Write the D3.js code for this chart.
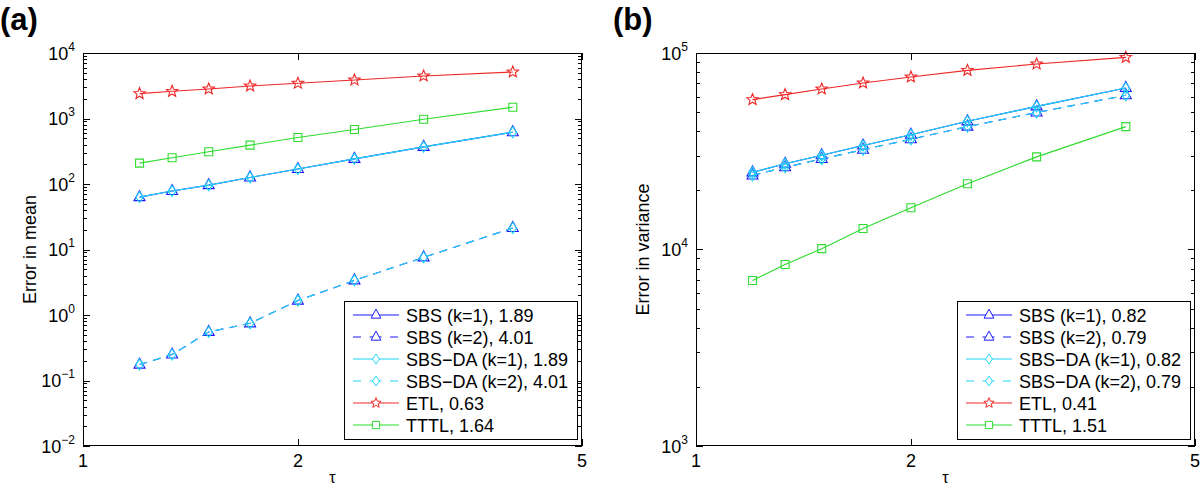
<!DOCTYPE html>
<html>
<head>
<meta charset="utf-8">
<script src="https://cdn.jsdelivr.net/npm/d3@7/dist/d3.min.js"></script>
<style>
  html, body { margin: 0; padding: 0; background: #fff; }
  text { font-family: "Liberation Sans", Arial, Helvetica, sans-serif; fill: #000; }
</style>
</head>
<body>
<svg id="chart" width="1200" height="489"></svg>
<script>
// ---------------- data ----------------
const tau = [1.2, 1.333, 1.5, 1.714, 2, 2.4, 3, 4];
const xTicks = [1, 2, 5];

// (a) Error in mean
const meanSBS1 = [63, 78, 96, 126, 169, 242, 369, 618];
const meanSBS2 = [0.175, 0.249, 0.552, 0.746, 1.66, 3.38, 7.58, 21.3];
const meanDA1 = [63, 78, 96, 126, 169, 242, 369, 618];
const meanDA2 = [0.175, 0.249, 0.552, 0.746, 1.66, 3.38, 7.58, 21.3];
const meanETL = [2400, 2600, 2825, 3140, 3450, 3870, 4460, 5130];
const meanTTTL = [208, 251, 310, 392, 512, 678, 975, 1486];
const meanLegend = ["SBS (k=1), 1.89", "SBS (k=2), 4.01", "SBS\u2212DA (k=1), 1.89", "SBS\u2212DA (k=2), 4.01", "ETL, 0.63", "TTTL, 1.64"];
const meanYExp = [-2, -1, 0, 1, 2, 3, 4];

// (b) Error in variance
const varSBS1 = [24700, 27300, 30200, 33800, 38400, 44900, 53500, 66400];
const varSBS2 = [23800, 26200, 28900, 32200, 36400, 42200, 49800, 60900];
const varDA1 = [24700, 27300, 30200, 33800, 38400, 44900, 53500, 66400];
const varDA2 = [23800, 26200, 28900, 32200, 36400, 42200, 49800, 60900];
const varETL = [57900, 61400, 65600, 70400, 75500, 81550, 87900, 95000];
const varTTTL = [6950, 8390, 10100, 12800, 16300, 21600, 29600, 42200];
const varLegend = ["SBS (k=1), 0.82", "SBS (k=2), 0.79", "SBS\u2212DA (k=1), 0.82", "SBS\u2212DA (k=2), 0.79", "ETL, 0.41", "TTTL, 1.51"];
const varYExp = [3, 4, 5];

// ---------------- styles ----------------
const BLUE = "#1a1aff", CYAN = "#1fd6f5", RED = "#f02828", GREEN = "#2fdc2f";
const seriesStyle = [
  {color: BLUE, dash: null, marker: "tri"},
  {color: BLUE, dash: "8,6", marker: "tri"},
  {color: CYAN, dash: null, marker: "dia"},
  {color: CYAN, dash: "8,6", marker: "dia"},
  {color: RED, dash: null, marker: "star"},
  {color: GREEN, dash: null, marker: "sq"}
];

const svg = d3.select("#chart");
svg.append("rect").attr("width", 1200).attr("height", 489).attr("fill", "#fff");

function markerPath(type) {
  if (type === "tri") return "M0,-6.5L5.5,3.5L-5.5,3.5Z";
  if (type === "dia") return "M0,-5.5L3.8,0L0,5.5L-3.8,0Z";
  if (type === "sq") return "M-4,-4L4,-4L4,4L-4,4Z";
  if (type === "star") {
    const pts = [];
    for (let i = 0; i < 10; i++) {
      const r = i % 2 === 0 ? 6 : 2.6;
      const a = -Math.PI / 2 + i * Math.PI / 5;
      pts.push([r * Math.cos(a), r * Math.sin(a)]);
    }
    return "M" + pts.map(p => p[0].toFixed(2) + "," + p[1].toFixed(2)).join("L") + "Z";
  }
}

function drawPanel(opt) {
  const g = svg.append("g").attr("transform", `translate(${opt.ox},0)`);
  const L = 83, R = 582, T = 53, B = 446;
  const x = d3.scaleLog().domain([1, 5]).range([L, R]);
  const y = d3.scaleLog().domain([Math.pow(10, opt.yExp[0]), Math.pow(10, opt.yExp[opt.yExp.length - 1])]).range([B, T]);

  // panel label
  g.append("text").attr("x", 0).attr("y", 30).attr("font-size", 31).attr("font-weight", "bold").text(opt.label);

  // ticks
  const tg = g.append("g").attr("stroke", "#000").attr("stroke-width", 1).attr("fill", "none");
  const yMajor = opt.yExp.map(e => Math.pow(10, e));
  const yMinor = [];
  for (let i = 0; i < opt.yExp.length - 1; i++)
    for (let m = 2; m <= 9; m++) yMinor.push(m * Math.pow(10, opt.yExp[i]));
  yMajor.forEach(v => {
    const yy = Math.round(y(v)) + 0.5;
    tg.append("line").attr("x1", L).attr("x2", L + 7).attr("y1", yy).attr("y2", yy);
    tg.append("line").attr("x1", R).attr("x2", R - 7).attr("y1", yy).attr("y2", yy);
  });
  yMinor.forEach(v => {
    const yy = Math.round(y(v)) + 0.5;
    tg.append("line").attr("x1", L).attr("x2", L + 4).attr("y1", yy).attr("y2", yy);
    tg.append("line").attr("x1", R).attr("x2", R - 4).attr("y1", yy).attr("y2", yy);
  });
  xTicks.forEach(v => {
    const xx = Math.round(x(v)) + 0.5;
    tg.append("line").attr("x1", xx).attr("x2", xx).attr("y1", B).attr("y2", B - 7);
    tg.append("line").attr("x1", xx).attr("x2", xx).attr("y1", T).attr("y2", T + 7);
  });

  // tick labels
  xTicks.forEach(v => {
    g.append("text").attr("x", x(v)).attr("y", 467).attr("text-anchor", "middle").attr("font-size", 18).text(v);
  });
  opt.yExp.forEach(e => {
    const t = g.append("text").attr("x", L - 8).attr("y", y(Math.pow(10, e)) + 6.5).attr("text-anchor", "end").attr("font-size", 18);
    t.append("tspan").text("10");
    t.append("tspan").attr("font-size", 12).attr("dy", -9).text(e < 0 ? "\u2212" + (-e) : e);
  });

  // axis labels
  g.append("text").attr("x", (L + R) / 2).attr("y", 483).attr("text-anchor", "middle").attr("font-size", 16).text("\u03c4");
  g.append("text").attr("transform", `translate(${opt.ylx},${(T + B) / 2}) rotate(-90)`).attr("text-anchor", "middle").attr("font-size", 18).text(opt.ylabel);

  // series
  const line = d3.line().x((d, i) => x(tau[i])).y(d => y(d));
  opt.series.forEach((s, k) => {
    const st = seriesStyle[k];
    g.append("path").datum(s).attr("d", line).attr("fill", "none").attr("stroke", st.color).attr("stroke-width", 1.1)
      .attr("stroke-dasharray", st.dash);
    g.selectAll(null).data(s).enter().append("path")
      .attr("d", markerPath(st.marker))
      .attr("transform", (d, i) => `translate(${x(tau[i])},${y(d)})`)
      .attr("fill", "none").attr("stroke", st.color).attr("stroke-width", 1.1);
  });

  // box
  g.append("rect").attr("x", L + 0.5).attr("y", T + 0.5).attr("width", R - L - 1).attr("height", B - T - 1)
    .attr("fill", "none").attr("stroke", "#000").attr("stroke-width", 1);

  // legend
  const lg = g.append("g");
  const lx = 344, ly = 301, lw = 233, lh = 138;
  lg.append("rect").attr("x", lx + 0.5).attr("y", ly + 0.5).attr("width", lw).attr("height", lh)
    .attr("fill", "#fff").attr("stroke", "#000").attr("stroke-width", 1);
  opt.legend.forEach((name, k) => {
    const st = seriesStyle[k];
    const ry = 315 + k * 22;
    lg.append("line").attr("x1", 353).attr("x2", 399).attr("y1", ry).attr("y2", ry)
      .attr("stroke", st.color).attr("stroke-width", 1.1).attr("stroke-dasharray", st.dash ? "8,8.5,12,8.5" : null);
    lg.append("path").attr("d", markerPath(st.marker)).attr("transform", `translate(376,${ry}) scale(0.9)`)
      .attr("fill", "#fff").attr("stroke", st.color).attr("stroke-width", 1.1);
    lg.append("text").attr("x", 406).attr("y", ry + 6.5).attr("font-size", 18).text(name);
  });
}

drawPanel({ox: 0, label: "(a)", yExp: meanYExp, ylabel: "Error in mean", ylx: 36,
  series: [meanSBS1, meanSBS2, meanDA1, meanDA2, meanETL, meanTTTL], legend: meanLegend});
drawPanel({ox: 613, label: "(b)", yExp: varYExp, ylabel: "Error in variance", ylx: 36,
  series: [varSBS1, varSBS2, varDA1, varDA2, varETL, varTTTL], legend: varLegend});
</script>
</body>
</html>
